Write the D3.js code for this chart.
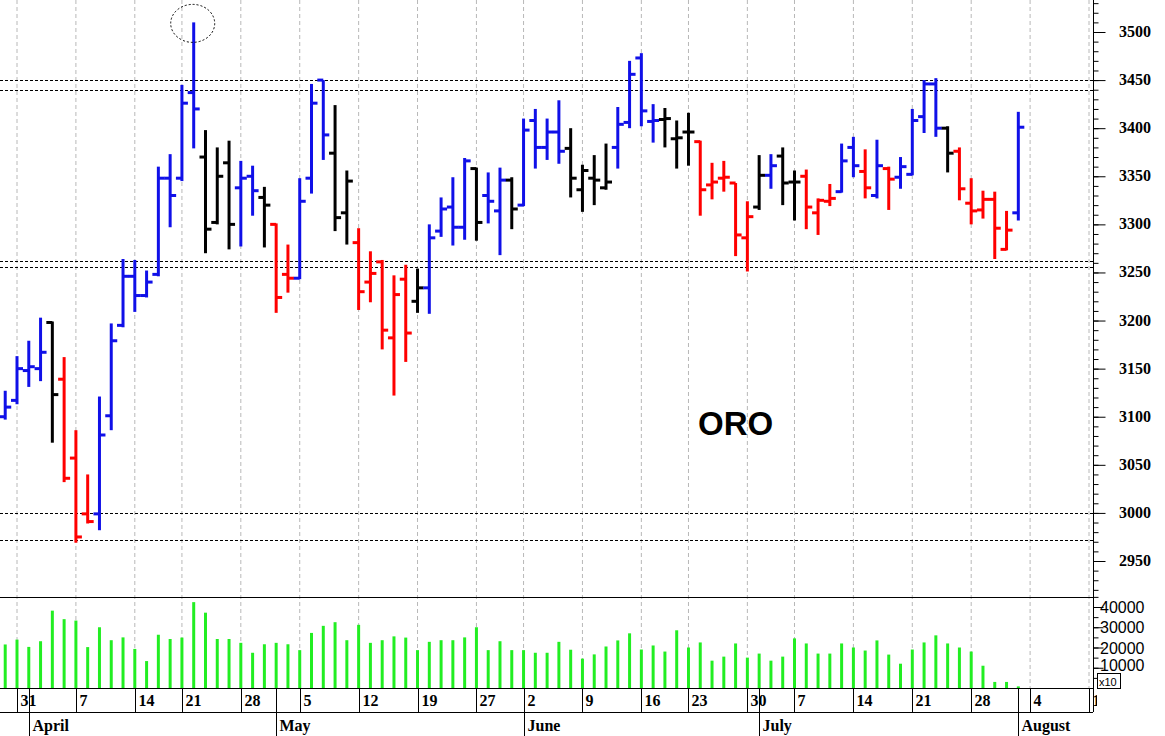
<!DOCTYPE html>
<html><head><meta charset="utf-8">
<script src="https://cdn.jsdelivr.net/npm/d3@7"></script>
<style>body{margin:0;background:#fff}svg{display:block}</style>
</head><body><svg id="c" width="1165" height="736"></svg>
<script>
const dates=["03-28","03-31","04-01","04-02","04-03","04-04","04-07","04-08","04-09","04-10","04-11","04-14","04-15","04-16","04-17","04-21","04-22","04-23","04-24","04-25","04-28","04-29","04-30","05-01","05-02","05-05","05-06","05-07","05-08","05-09","05-12","05-13","05-14","05-15","05-16","05-19","05-20","05-21","05-22","05-23","05-27","05-28","05-29","05-30","06-02","06-03","06-04","06-05","06-06","06-09","06-10","06-11","06-12","06-13","06-16","06-17","06-18","06-20","06-23","06-24","06-25","06-26","06-27","06-30","07-01","07-02","07-03","07-07","07-08","07-09","07-10","07-11","07-14","07-15","07-16","07-17","07-18","07-21","07-22","07-23","07-24","07-25","07-28","07-29","07-30","07-31","08-01"];
const futureDates=["08-04","08-05","08-06","08-07","08-08","08-11"];
const opens=[3100,3117,3148,3150,3198,3139,3057,2999,2999,3101,3195,3246,3226,3248,3348,3348,3437,3370,3302,3364,3338,3350,3328,3300,3248,3244,3348,3450,3374,3312,3281,3240,3261,3182,3243,3220,3234,3293,3318,3297,3358,3330,3314,3346,3320,3408,3380,3396,3379,3336,3348,3338,3380,3406,3473,3407,3409,3389,3396,3386,3341,3348,3343,3286,3318,3351,3371,3344,3350,3312,3324,3334,3380,3355,3330,3358,3349,3352,3412,3446,3400,3376,3322,3315,3326,3274,3312];
const highs=[3127,3163,3179,3203,3199,3162,3086,3040,3121,3197,3264,3263,3252,3360,3373,3445,3510,3398,3380,3387,3366,3361,3339,3301,3279,3348,3446,3450,3424,3356,3296,3272,3263,3247,3258,3254,3300,3328,3349,3369,3359,3354,3359,3349,3410,3420,3410,3429,3400,3362,3372,3384,3422,3470,3478,3425,3421,3408,3416,3387,3364,3366,3343,3324,3372,3373,3380,3356,3357,3327,3342,3384,3391,3378,3388,3360,3370,3420,3450,3452,3402,3380,3348,3335,3334,3314,3417];
const lows=[3097,3113,3131,3137,3073,3032,2969,2989,2982,3086,3193,3209,3224,3246,3297,3345,3379,3270,3300,3274,3277,3309,3276,3208,3229,3243,3332,3367,3293,3279,3211,3219,3170,3122,3157,3208,3207,3287,3278,3284,3283,3301,3268,3295,3319,3358,3367,3363,3328,3313,3320,3336,3358,3400,3402,3385,3380,3358,3361,3309,3326,3334,3267,3251,3315,3337,3320,3304,3295,3289,3319,3333,3349,3327,3327,3315,3337,3351,3395,3391,3354,3325,3300,3306,3264,3273,3304];
const closes=[3110,3150,3152,3167,3123,3036,2975,2991,3081,3179,3246,3226,3240,3348,3330,3426,3420,3295,3350,3300,3348,3335,3320,3224,3244,3324,3426,3393,3307,3345,3230,3249,3190,3227,3187,3234,3286,3316,3297,3366,3302,3324,3346,3316,3398,3380,3396,3376,3348,3356,3346,3344,3404,3456,3418,3408,3410,3390,3396,3336,3344,3349,3289,3308,3351,3361,3343,3344,3318,3325,3327,3366,3361,3338,3361,3347,3360,3408,3446,3400,3374,3337,3314,3326,3296,3294,3401];
const barColors="BBBBKRRRBBBBBBBBBKKKBBKRRBBBKKRRRRRKBBBBKBBKBBBBKKKKBBBBKKKRRRRRKBKKRRRBBRBRBBBBKRRRRRB".split("");
const volumes=[21.5,23.9,20.3,23.1,38.2,34.0,33.3,20.2,30.0,23.6,25.0,19.3,13.3,26.3,24.2,24.9,42.4,37.2,24.2,24.2,22.3,17.4,21.6,22.3,21.6,18.7,27.2,30.7,32.5,23.6,31.2,22.3,23.6,25.5,24.9,18.7,22.8,23.6,23.6,25.0,30.0,18.7,23.1,18.7,18.7,17.4,17.4,22.8,18.9,14.5,16.6,20.5,23.5,27,19,21,18,28.5,20,22.5,13.5,15.5,22,15,17,13.5,15.5,24.5,22,17,17,22,20,18.5,23.5,16.5,12,19,22.5,26,22,20,18,11,3,3,0.8].map(v=>v*1000);
const weekTicks=["03-31","04-07","04-14","04-21","04-28","05-05","05-12","05-19","05-27","06-02","06-09","06-16","06-23","06-30","07-07","07-14","07-21","07-28","08-04","08-11"];
const monthStarts=[["04-01","April"],["05-01","May"],["06-02","June"],["07-01","July"],["08-01","August"]];
const levels=[3450,3440,3262,3256,3000,2972];
const priceTicks=d3.range(2950,3501,50);
const volTicks=[10000,20000,30000,40000];
const colorMap={B:"#1010e8",K:"#000",R:"#ff0000"};

const allDates=dates.concat(futureDates);
const idx=d=>allDates.indexOf(d);
const svg=d3.select("#c");
const X1=1093;
const x=d3.scaleLinear().domain([1,92]).range([17,1089]);
const y=d3.scaleLinear().domain([2950,3500]).range([561,32]);
const yv=d3.scaleLinear().domain([0,40000]).range([688,607]);
const serif="'Liberation Serif','Times New Roman',serif";
const sans="'Liberation Sans',Arial,sans-serif";

svg.append("clipPath").attr("id","pc").append("rect").attr("x",0).attr("y",0).attr("width",X1).attr("height",736);
svg.append("clipPath").attr("id","dc").append("rect").attr("x",0).attr("y",0).attr("width",X1+4).attr("height",736);
const g=svg.append("g").attr("clip-path","url(#pc)");

weekTicks.forEach(d=>{g.append("line").attr("x1",x(idx(d))).attr("x2",x(idx(d))).attr("y1",0).attr("y2",688)
 .attr("stroke","#b8b8b8").attr("stroke-dasharray","4,3");});
levels.forEach(v=>g.append("line").attr("x1",0).attr("x2",X1).attr("y1",Math.round(y(v))+0.5).attr("y2",Math.round(y(v))+0.5)
 .attr("stroke","#000").attr("stroke-dasharray","3,2"));

dates.forEach((d,i)=>{
 const cx=x(idx(d)), c=colorMap[barColors[i]];
 const b=g.append("g").attr("stroke",c).attr("stroke-width",3);
 b.append("line").attr("x1",cx).attr("x2",cx).attr("y1",y(highs[i])).attr("y2",y(lows[i]));
 b.append("line").attr("x1",cx-6).attr("x2",cx).attr("y1",y(opens[i])).attr("y2",y(opens[i]));
 b.append("line").attr("x1",cx).attr("x2",cx+6).attr("y1",y(closes[i])).attr("y2",y(closes[i]));
});
dates.forEach((d,i)=>{
 g.append("line").attr("x1",x(idx(d))).attr("x2",x(idx(d))).attr("y1",yv(0)).attr("y2",yv(volumes[i]))
  .attr("stroke","#22ee22").attr("stroke-width",3);
});
const sp=16;
g.append("ellipse").attr("cx",x(sp)-1).attr("cy",y(highs[sp])+1).attr("rx",22).attr("ry",19)
 .attr("fill","none").attr("stroke","#000").attr("stroke-dasharray","2,2");

svg.append("line").attr("x1",0).attr("x2",X1).attr("y1",597.5).attr("y2",597.5).attr("stroke","#000");
svg.append("line").attr("x1",0).attr("x2",X1).attr("y1",688.5).attr("y2",688.5).attr("stroke","#000");
svg.append("line").attr("x1",0).attr("x2",X1).attr("y1",712.5).attr("y2",712.5).attr("stroke","#000");
svg.append("line").attr("x1",X1+0.5).attr("x2",X1+0.5).attr("y1",0).attr("y2",712).attr("stroke","#000");

const pax=svg.append("g").attr("transform",`translate(${X1+0.5},0)`);
pax.call(d3.axisRight(y).tickValues(d3.range(2920,3540,10)).tickSize(5).tickFormat(""));
pax.append("g").call(d3.axisRight(y).tickValues(priceTicks).tickSize(12).tickFormat(""));
pax.selectAll(".domain").remove();
pax.selectAll("line").attr("stroke","#000");
priceTicks.forEach(v=>svg.append("text").attr("x",1119).attr("y",y(v)+5).text(v)
 .attr("font-family",serif).attr("font-weight","bold").attr("font-size",16));
const vax=svg.append("g").attr("transform",`translate(${X1+0.5},0)`);
vax.call(d3.axisRight(yv).tickValues(d3.range(5000,45001,5000)).tickSize(5).tickFormat(""));
vax.append("g").call(d3.axisRight(yv).tickValues(volTicks).tickSize(10).tickFormat(""));
vax.selectAll(".domain").remove();
vax.selectAll("line").attr("stroke","#000");
volTicks.forEach(v=>svg.append("text").attr("x",1100).attr("y",v===10000?yv(v)+3:yv(v)+6).text(v)
 .attr("font-family",sans).attr("font-size",16));
svg.append("rect").attr("x",1097.5).attr("y",673.5).attr("width",23).attr("height",15).attr("fill","#fff").attr("stroke","#000");
svg.append("text").attr("x",1099).attr("y",686).text("x10").attr("font-family",sans).attr("font-size",11);

const dg=svg.append("g").attr("clip-path","url(#dc)");
weekTicks.forEach(d=>{const px=Math.round(x(idx(d)))+0.5;
 dg.append("line").attr("x1",px).attr("x2",px).attr("y1",688).attr("y2",712).attr("stroke","#000");
 dg.append("text").attr("x",px+3).attr("y",706).text(+d.slice(3)).attr("font-family",serif).attr("font-weight","bold").attr("font-size",16);
});
monthStarts.forEach(([d,n])=>{const px=Math.round(x(idx(d)))+0.5;
 dg.append("line").attr("x1",px).attr("x2",px).attr("y1",688).attr("y2",736).attr("stroke","#000");
 dg.append("text").attr("x",px+3).attr("y",731).text(n).attr("font-family",serif).attr("font-weight","bold").attr("font-size",16);
});

svg.append("text").attr("x",698).attr("y",435).text("ORO").attr("font-family",sans).attr("font-weight","bold").attr("font-size",33);
</script></body></html>
